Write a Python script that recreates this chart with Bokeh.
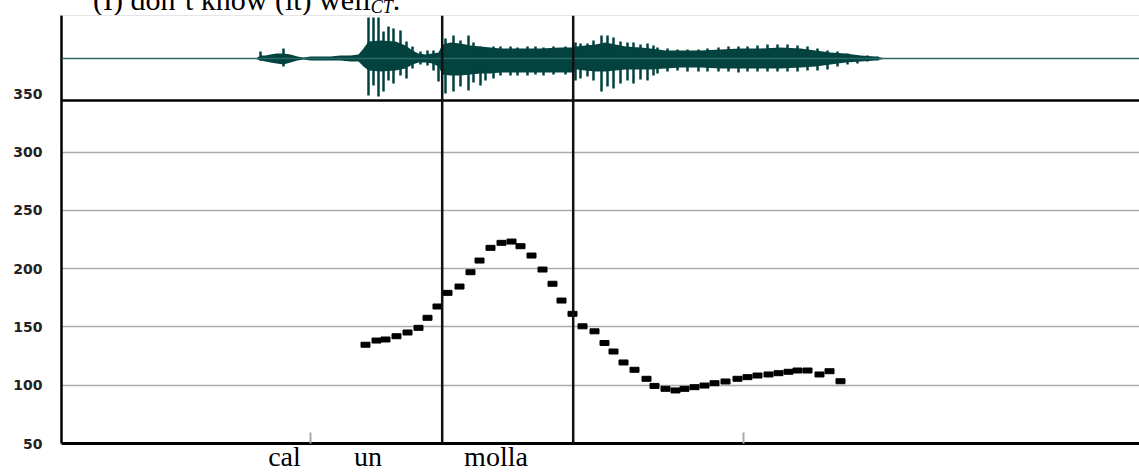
from bokeh.plotting import figure
from bokeh.models import Range1d, FixedTicker, Span, Div
from bokeh.layouts import column
from bokeh.embed import file_html
from bokeh.resources import INLINE

# ---------------- data (time in seconds, f0 in Hz) ----------------
pitch_t = [0.608, 0.630, 0.648, 0.670, 0.692, 0.714, 0.732, 0.752, 0.772, 0.796,
           0.818, 0.836, 0.858, 0.880, 0.900, 0.918, 0.940, 0.962, 0.982, 1.000,
           1.022, 1.042, 1.066, 1.086, 1.104, 1.124, 1.146, 1.170, 1.186, 1.208,
           1.228, 1.246, 1.266, 1.286, 1.306, 1.328, 1.352, 1.372, 1.392, 1.414,
           1.434, 1.454, 1.472, 1.492, 1.516, 1.536, 1.558]
pitch_hz = [134.7, 138.3, 139.2, 142.0, 145.2, 149.2, 157.8, 167.5, 179.2, 184.6,
            196.9, 206.9, 217.8, 222.1, 223.2, 219.2, 211.2, 199.2, 187.0, 172.6,
            161.2, 150.5, 146.2, 136.2, 128.9, 119.5, 113.2, 105.5, 99.4, 96.9,
            95.5, 96.9, 98.3, 99.7, 101.7, 103.2, 105.5, 106.9, 108.3, 109.2,
            110.3, 111.5, 112.6, 112.6, 109.2, 112.0, 103.4]

boundaries_t = [0.7614, 1.0234]
mark_t = [0.498, 1.3634]
words = ["cal", "un", "molla"]
word_t = [0.446, 0.613, 0.869]
y_ticks = [50, 100, 150, 200, 250, 300, 350]
grid_ticks = [100, 150, 200, 250, 300]

title_main = "(I) don\u2019t know (it) well"
title_sub = "CT"

# waveform envelope (arbitrary amplitude units)
env_t = [0.388, 0.392, 0.398, 0.408, 0.418, 0.430, 0.444, 0.458, 0.472, 0.484,
         0.498, 0.518, 0.538, 0.558, 0.578, 0.594, 0.604, 0.614, 0.638, 0.668,
         0.688, 0.702, 0.714, 0.728, 0.742, 0.754, 0.762, 0.778, 0.798, 0.818,
         0.838, 0.858, 0.878, 0.918, 0.958, 0.998, 1.022, 1.030, 1.048, 1.068,
         1.088, 1.108, 1.128, 1.158, 1.178, 1.208, 1.238, 1.278, 1.318, 1.358,
         1.398, 1.438, 1.478, 1.508, 1.538, 1.568, 1.598, 1.628, 1.648]
env_hi = [0, 1, 3, 3, 4, 5, 5, 4, 2, 1,
          2, 2, 2, 3, 3, 4, 10, 17, 18, 17,
          13, 8, 5, 4, 5, 6, 14, 16, 15, 13,
          12, 11, 10, 10, 10, 11, 11, 12, 13, 14,
          16, 14, 12, 11, 10, 8, 8, 8, 9, 10,
          10, 11, 10, 8, 6, 5, 3, 2, 0]
env_lo = [0, -1, -2, -3, -4, -5, -6, -4, -2, -1,
          -2, -2, -2, -2, -3, -3, -8, -12, -13, -12,
          -10, -6, -4, -4, -5, -8, -16, -17, -17, -16,
          -15, -15, -14, -14, -14, -14, -14, -11, -12, -13,
          -13, -12, -11, -11, -11, -10, -9, -9, -10, -10,
          -10, -10, -9, -8, -6, -4, -3, -2, 0]

spike_t = [0.398, 0.444, 0.614, 0.624, 0.634, 0.644, 0.654, 0.664, 0.678, 0.690,
           0.702, 0.718, 0.732, 0.744, 0.754, 0.768, 0.784, 0.798, 0.814, 0.824,
           0.838, 0.848, 0.864, 0.878, 0.898, 0.912, 0.932, 0.948, 0.964, 0.984,
           1.008, 1.028, 1.038, 1.052, 1.064, 1.080, 1.092, 1.104, 1.118, 1.132,
           1.144, 1.158, 1.172, 1.184, 1.192, 1.212, 1.232, 1.252, 1.274, 1.292,
           1.314, 1.334, 1.354, 1.372, 1.392, 1.412, 1.432, 1.452, 1.472, 1.492,
           1.512, 1.532, 1.552, 1.572, 1.592, 1.612, 1.632]
spike_hi = [7, 10, 41, 41, 41, 27, 32, 30, 28, 17,
            12, 7, 8, 8, 4, 20, 23, 18, 23, 16,
            12, 11, 12, 12, 12, 11, 12, 12, 11, 12,
            12, 16, 15, 15, 18, 23, 23, 21, 17, 16,
            16, 14, 15, 13, 11, 10, 9, 9, 9, 10,
            11, 12, 12, 12, 13, 14, 14, 14, 13, 12,
            10, 8, 7, 5, 3, 3, 2]
spike_lo = [-2, -8, -37, -27, -38, -33, -22, -25, -17, -20,
            -10, -6, -7, -12, -23, -35, -33, -28, -32, -24,
            -27, -22, -20, -17, -17, -17, -17, -16, -17, -16,
            -16, -22, -20, -18, -22, -33, -28, -30, -25, -22,
            -25, -21, -22, -17, -15, -13, -12, -13, -13, -13,
            -13, -13, -14, -13, -13, -13, -13, -13, -13, -12,
            -12, -11, -8, -6, -5, -3, -2]

WAVE = "#03423f"

# ---------------- title strip (clipped at its top, as in the source) ----------------
title_html = (
    '<div style="font-family:\'Liberation Serif\',serif;font-size:30px;'
    'line-height:30px;white-space:nowrap;margin:0;padding:0;color:black;'
    'position:relative;left:93px;top:-15px;">'
    + title_main
    + '<span style="position:relative;top:3px;font-style:italic;font-size:18px;">'
    + title_sub + '</span>.</div>'
)
title_div = Div(text=title_html, width=1139, height=15, margin=0,
                styles={"overflow": "hidden"})

# ---------------- figure ----------------
p = figure(width=1139, height=460, output_backend="svg", toolbar_location=None,
           x_range=Range1d(0, 2.156), y_range=Range1d(50, 417.07),
           min_border_left=61, min_border_right=0, min_border_top=0,
           min_border_bottom=32, background_fill_color="white",
           border_fill_color="white", outline_line_color=None)
p.title.visible = False
p.extra_y_ranges = {"wave": Range1d(-385, 43)}

# grid
p.xgrid.visible = False
p.ygrid.ticker = FixedTicker(ticks=grid_ticks)
p.ygrid.grid_line_color = "#ababab"
p.ygrid.grid_line_width = 1.5

# y axis
p.yaxis.ticker = FixedTicker(ticks=y_ticks)
p.yaxis.major_tick_line_color = None
p.yaxis.minor_tick_line_color = None
p.yaxis.axis_line_width = 2.5
p.yaxis.axis_line_color = "black"
p.yaxis.major_label_standoff = 13
p.yaxis.major_label_text_font = "DejaVu Sans"
p.yaxis.major_label_text_font_style = "bold"
p.yaxis.major_label_text_font_size = "14px"
p.yaxis.major_label_text_color = "#222222"

# x axis: words as labels, annotation marks as small grey ticks
p.xaxis.ticker = FixedTicker(ticks=word_t, minor_ticks=mark_t)
p.xaxis.major_label_overrides = {t: w for t, w in zip(word_t, words)}
p.xaxis.major_tick_line_color = None
p.xaxis.major_tick_in = 0
p.xaxis.major_tick_out = 0
p.xaxis.minor_tick_in = 11
p.xaxis.minor_tick_out = 0
p.xaxis.minor_tick_line_color = "#aaaaaa"
p.xaxis.minor_tick_line_width = 2
p.xaxis.axis_line_width = 3
p.xaxis.axis_line_color = "black"
p.xaxis.major_label_standoff = -3
p.xaxis.major_label_text_font = "Liberation Serif"
p.xaxis.major_label_text_font_size = "28px"
p.xaxis.major_label_text_color = "black"

# waveform
p.add_layout(Span(location=0, dimension="width", y_range_name="wave",
                  line_color="#2a6a68", line_width=1.5))
p.varea(x=env_t, y1=env_lo, y2=env_hi, fill_color=WAVE, y_range_name="wave")
p.segment(x0=spike_t, y0=spike_lo, x1=spike_t, y1=spike_hi, line_color=WAVE,
          line_width=2.5, y_range_name="wave")

# panel separator and top border
p.add_layout(Span(location=-42, dimension="width", y_range_name="wave",
                  line_color="black", line_width=2.5))
p.add_layout(Span(location=43, dimension="width", y_range_name="wave",
                  line_color="#cccccc", line_width=1))

# segment boundaries
for b in boundaries_t:
    p.add_layout(Span(location=b, dimension="height", line_color="#111111",
                      line_width=2.5))

# pitch track
p.rect(x=pitch_t, y=pitch_hz, width=9, height=5, width_units="screen",
       height_units="screen", fill_color="black", line_color="black")

layout = column(title_div, p, spacing=0)
open("out.html", "w").write(file_html(layout, INLINE))
